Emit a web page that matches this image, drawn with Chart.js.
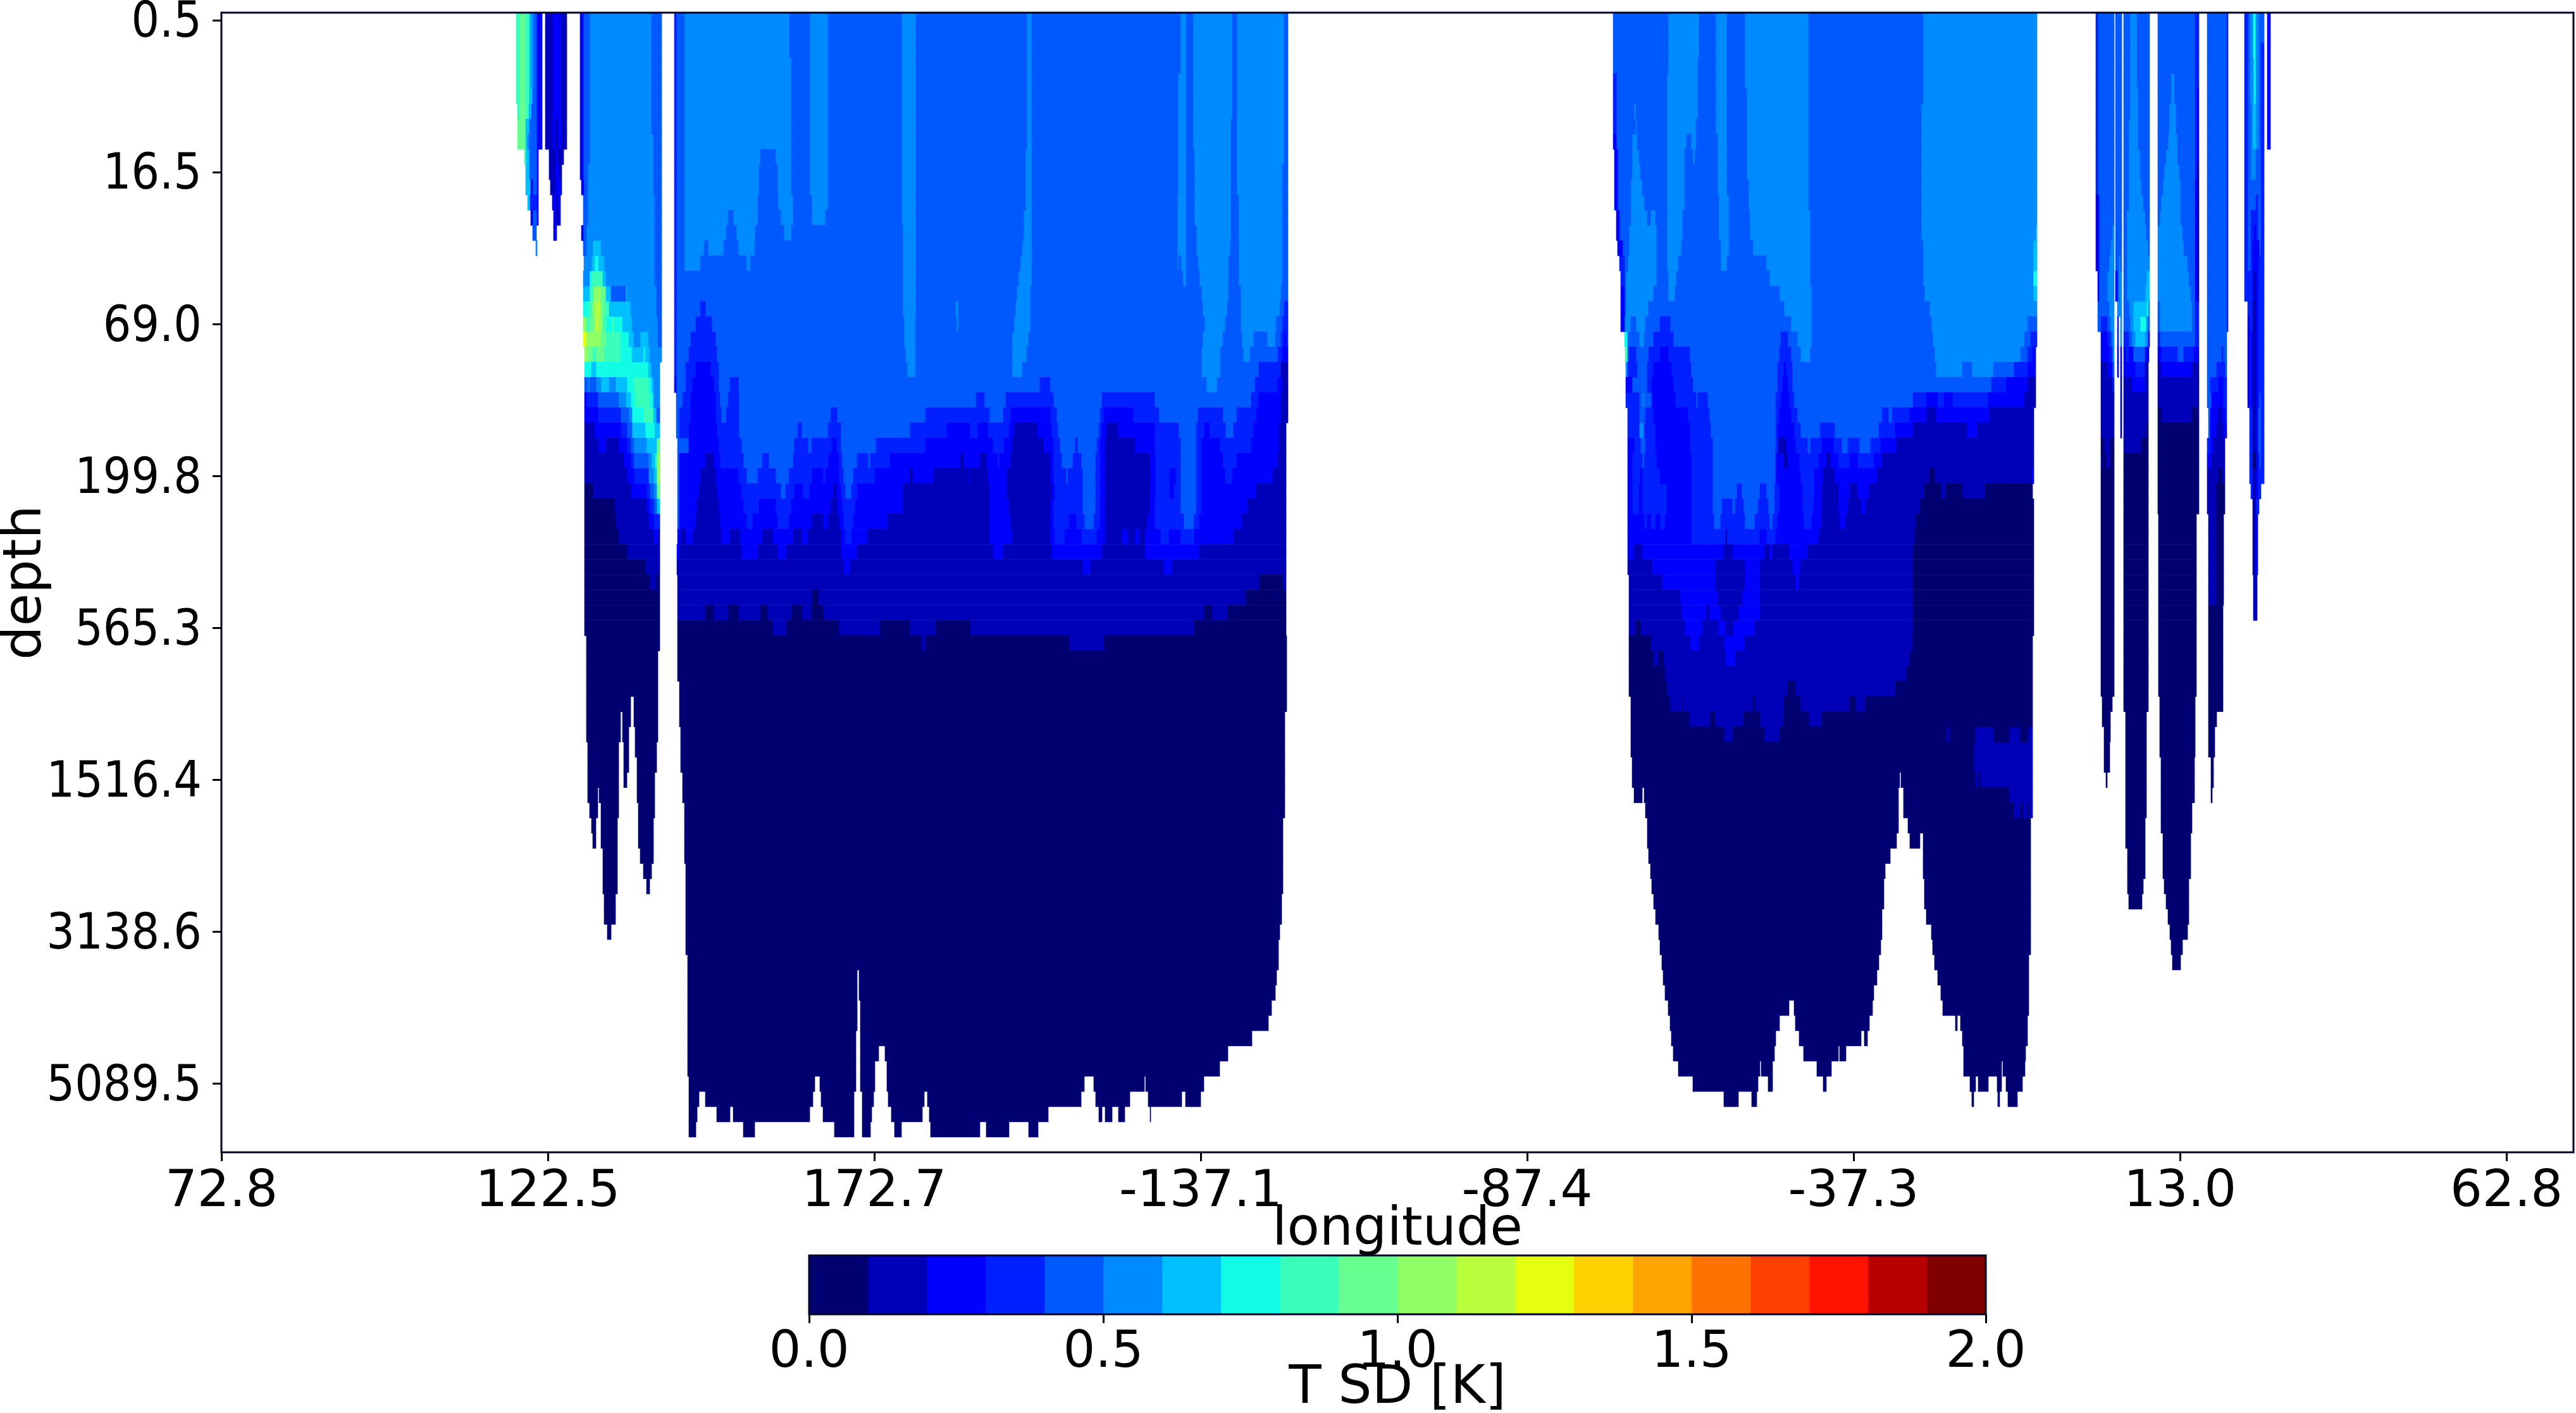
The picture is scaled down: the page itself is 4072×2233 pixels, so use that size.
<!DOCTYPE html>
<html>
<head>
<meta charset="utf-8">
<script src="https://cdn.jsdelivr.net/npm/chart.js"></script>
<style>
    html, body { margin: 0; background: #fff; }
    canvas { position: absolute; left: 0; }
</style>
</head>
<body>
<canvas id="section" width="4072" height="2233" style="top:0"></canvas>
<canvas id="colorbar" width="4072" height="333" style="top:1900px"></canvas>

<script>
// x unit is one grid step along the section (about 0.097 degrees)
const lonTickSteps = [0, 516, 1032, 1548, 2064, 2580, 3096, 3612];
const lonLabels = ['72.8', '122.5', '172.7', '-137.1', '-87.4', '-37.3', '13.0', '62.8'];
const lonMax = 3718;
const depthLevels = 75;
const depthTicks = ['0.5', '16.5', '69.0', '199.8', '565.3', '1516.4', '3138.6', '5089.5'];
const cbBounds = [0, 0.1, 0.2, 0.3, 0.4, 0.5, 0.6, 0.7, 0.8, 0.9, 1, 1.1, 1.2, 1.3, 1.4, 1.5, 1.6, 1.7, 1.8, 1.9, 2];
const levelColors = ['#000070', '#0000b8', '#0000ff', '#0020ff', '#0058ff', '#008aff', '#00c0ff', '#10fce6',
    '#3affba', '#66ff90', '#90ff66', '#baff3d', '#e6ff10', '#ffd000', '#ffa400', '#ff7200', '#ff4000', '#ff1300', '#b60000', '#800000'];

// each run: first row, last row, then x, level, x, level ... x. level -1 means land
const marginalSeas = [
    [0,4, 466,8,472,9,480,8,487,6,490,5,494,4,499,2,507],
    [0,6, 512,1,523,2,538,1,546],
    [5,5, 466,8,472,9,480,8,487,6,492,4,499,2,507],
    [6,6, 468,8,471,9,481,8,486,6,490,4,499,2,507],
    [7,7, 468,9,481,6,487,4,499,2,507],
    [8,8, 468,9,481,6,484,5,487,4,499,2,507],
    [7,8, 512,1,523,2,528,1,531,2,538,1,546],
    [9,9, 479,8,482,6,487,4,499,2,501],
    [9,9, 518,1,528,2,532,1,541],
    [10,10, 481,6,487,4,499,2,501],
    [10,10, 518,1,528,2,534,1,538],
    [11,11, 481,6,489,2,492,4,499,2,501],
    [11,11, 520,1,528,2,538],
    [12,12, 484,6,488,3,499,2,501],
    [12,12, 523,2,529,1,532,2,536],
    [13,13, 489,2,492,4,499,2,501],
    [13,13, 525,2,529,1,533,2,536],
    [14,14, 492,4,498],
    [14,14, 525,2,530],
    [15,15, 497,5,499]
];

const westPacific = [
    [0,7, 567,2,572,4,582,5,680,4,696],
    [8,9, 567,2,572,4,582,5,683,4,696],
    [10,10, 567,2,572,4,579,5,683,4,696],
    [11,11, 569,2,573,4,579,5,683,4,696],
    [12,13, 572,4,579,5,685,4,696],
    [14,14, 569,2,572,4,577,5,685,4,696],
    [15,15, 572,4,577,5,587,6,600,5,685,4,696],
    [16,16, 573,5,585,6,590,7,596,6,605,5,685,4,696],
    [17,17, 572,5,582,7,585,8,603,6,608,5,685,4,696],
    [18,18, 572,6,582,8,588,10,600,9,608,6,616,4,639,6,641,5,688,4,696],
    [19,19, 572,7,580,8,586,10,592,11,600,9,606,8,613,6,647,5,688,4,696],
    [20,20, 572,10,577,8,582,9,590,11,597,10,603,8,609,7,617,8,621,7,634,6,649,5,690,4,696],
    [21,21, 572,12,577,10,600,9,608,8,631,7,644,6,652,5,662,6,675,5,690,4,696],
    [22,22, 574,10,580,9,587,8,592,9,605,8,631,7,649,6,667,7,670,6,677,5,696],
    [23,23, 574,7,585,6,592,7,675,6,680,5,693],
    [24,24, 574,4,579,5,582,4,592,5,600,6,613,5,623,6,641,7,651,8,675,7,680,6,683,5,693],
    [25,25, 574,2,577,3,595,4,628,5,639,6,647,7,654,8,677,7,683,5,693],
    [26,26, 574,2,595,3,631,4,644,5,649,7,667,8,683,6,688,4,693],
    [27,27, 574,1,590,2,631,3,641,4,649,6,670,7,685,6,693],
    [28,28, 574,1,596,2,608,1,628,2,641,3,647,4,652,5,672,6,688,9,693],
    [29,29, 574,1,636,2,647,3,652,4,675,5,680,6,685,7,688,10,693],
    [30,30, 574,1,641,2,652,3,675,5,683,6,688,10,693],
    [31,31, 574,0,587,1,647,2,672,3,677,4,683,5,688,9,693],
    [32,32, 574,0,621,1,672,2,677,3,683,4,688,6,693],
    [33,33, 574,0,623,1,675,2,683,3,693],
    [34,34, 574,0,628,1,683,2,690,1,693],
    [35,35, 574,0,641,1,693],
    [36,36, 574,0,670,1,693],
    [37,37, 574,0,677,1,688,0,693],
    [38,40, 574,0,693],
    [41,41, 577,0,693],
    [42,44, 577,0,690],
    [45,45, 577,0,647,-1,652,0,690],
    [46,46, 577,0,631,-1,634,0,647,-1,652,0,690],
    [47,47, 577,0,631,-1,634,0,644,-1,654,0,690],
    [48,48, 579,0,628,-1,636,0,644,-1,654,0,688],
    [49,49, 579,0,628,-1,636,0,644,-1,657,0,688],
    [50,50, 579,0,628,-1,636,0,641,-1,657,0,685],
    [51,51, 579,0,595,-1,597,0,628,-1,657,0,685],
    [52,52, 582,0,595,-1,600,0,628,-1,659,0,685],
    [53,53, 585,0,592,-1,600,0,626,-1,659,0,683],
    [54,54, 587,0,592,-1,600,0,626,-1,659,0,683],
    [55,55, 603,0,626,-1,662,0,683],
    [56,56, 603,0,626,-1,667,0,680],
    [57,57, 603,0,626,-1,672,0,677],
    [58,59, 605,0,623],
    [60,60, 610,0,616]
];

const pacific = [
    [0,2, 716,3,719,4,732,5,898,4,930,5,959,4,1075,5,1098,4,1273,5,1281,4,1516,5,1525,4,1536,5,1598,4,1605,5,1680,4,1686],
    [3,3, 716,3,719,4,732,5,901,4,930,5,959,4,1075,5,1098,4,1273,5,1281,4,1516,5,1525,4,1536,5,1598,4,1605,5,1680,4,1686],
    [4,6, 716,3,719,4,732,5,901,4,930,5,959,4,1075,5,1098,4,1273,5,1281,4,1512,5,1525,4,1536,5,1598,4,1605,5,1680,4,1686],
    [7,8, 716,3,719,4,732,5,901,4,930,5,959,4,1075,5,1098,4,1273,5,1281,4,1512,5,1525,4,1536,5,1596,4,1605,5,1680,4,1686],
    [9,9, 716,3,719,4,732,5,852,4,876,5,901,4,930,5,959,4,1075,5,1098,4,1271,5,1281,4,1512,5,1525,4,1538,5,1596,4,1605,5,1680,4,1686],
    [10,11, 716,3,719,4,732,5,850,4,879,5,901,4,930,5,959,4,1075,5,1098,4,1271,5,1281,4,1512,5,1525,4,1538,5,1596,4,1605,5,1677,4,1686],
    [12,12, 716,3,719,4,732,5,848,4,880,5,904,4,933,5,959,4,1075,5,1098,4,1271,5,1281,4,1511,5,1525,4,1538,5,1596,4,1608,5,1677,4,1686],
    [13,13, 716,3,719,4,732,5,801,4,809,5,848,4,884,5,904,4,933,5,955,4,1075,5,1098,4,1268,5,1281,4,1511,5,1525,4,1538,5,1596,4,1608,5,1677,4,1686],
    [14,14, 716,3,719,4,732,5,798,4,814,5,844,4,889,5,901,4,1077,5,1098,4,1268,5,1281,4,1511,5,1525,4,1541,5,1596,4,1608,5,1677,4,1686],
    [15,15, 716,3,719,4,732,5,763,4,769,5,794,4,817,5,843,4,1077,5,1098,4,1266,5,1281,4,1511,5,1525,4,1541,5,1595,4,1608,5,1677,4,1686],
    [16,16, 716,3,719,4,732,5,757,4,830,5,836,4,1077,5,1098,4,1263,5,1281,4,1511,5,1513,4,1517,5,1525,4,1544,5,1592,4,1608,5,1677,4,1686],
    [17,17, 716,3,719,4,1077,5,1098,4,1260,5,1281,4,1520,5,1525,4,1546,5,1592,4,1608,5,1677,4,1686],
    [18,18, 716,3,719,4,1077,5,1098,4,1257,5,1279,4,1549,5,1592,4,1611,5,1675,4,1686],
    [19,19, 716,3,719,4,757,3,765,4,1077,5,1098,4,1160,5,1165,4,1255,5,1279,4,1551,5,1590,4,1611,5,1673,4,1680,3,1686],
    [20,20, 716,3,719,4,750,3,775,4,1079,5,1097,4,1162,5,1165,4,1253,5,1279,4,1554,5,1587,4,1611,5,1667,4,1677,3,1686],
    [21,21, 716,3,719,4,742,3,781,4,1079,5,1097,4,1250,5,1276,4,1551,5,1583,4,1613,5,1632,4,1653,5,1666,4,1675,3,1680,2,1683,3,1686],
    [22,22, 716,3,719,4,739,3,783,4,1081,5,1097,4,1250,5,1273,4,1549,5,1579,4,1615,5,1626,4,1670,3,1677,2,1686],
    [23,23, 716,3,719,4,734,3,750,2,773,3,786,4,1084,5,1097,4,1250,5,1266,4,1549,5,1579,4,1640,3,1675,1,1686],
    [24,24, 716,2,719,4,734,3,745,2,778,3,786,4,804,3,817,4,1294,3,1310,4,1557,5,1574,4,1634,3,1670,2,1677,1,1686],
    [25,25, 719,4,729,3,742,2,781,3,788,4,801,3,818,4,1193,3,1206,4,1240,3,1315,4,1392,3,1475,4,1628,3,1640,2,1675,1,1686],
    [26,26, 719,4,724,3,742,2,781,3,790,4,798,3,818,4,963,3,973,4,1113,3,1214,4,1236,3,1248,2,1310,3,1320,4,1389,3,1395,2,1441,3,1482,4,1544,3,1583,4,1605,3,1636,2,1675,1,1686],
    [27,27, 719,4,724,3,739,2,783,3,818,4,911,3,917,4,959,3,979,4,1089,3,1147,2,1183,3,1196,2,1211,3,1245,2,1253,1,1289,2,1312,3,1322,4,1387,3,1392,2,1400,1,1417,2,1475,3,1513,4,1541,3,1554,2,1562,3,1587,4,1600,3,1632,2,1672,1,1683],
    [28,28, 721,4,739,2,786,3,822,4,906,3,927,4,933,3,965,2,972,3,979,4,1035,3,1113,2,1219,3,1237,2,1250,1,1299,2,1315,3,1325,4,1350,3,1353,4,1384,3,1389,2,1397,1,1444,2,1475,3,1516,4,1541,3,1549,2,1578,3,1628,2,1672,1,1683],
    [29,29, 721,4,724,2,765,1,778,2,788,3,825,4,855,3,865,4,904,3,960,2,976,3,981,4,1005,3,1022,4,1026,3,1057,2,1168,1,1173,2,1199,1,1209,2,1227,3,1230,2,1248,1,1310,2,1315,3,1328,4,1346,3,1359,4,1382,3,1389,2,1397,1,1467,2,1476,3,1516,4,1541,3,1549,2,1583,3,1605,2,1670,1,1683],
    [30,30, 721,4,724,2,757,1,781,2,817,3,830,4,848,3,876,4,897,3,934,2,951,3,955,2,976,3,983,4,999,3,1033,2,1088,1,1093,2,1126,1,1181,2,1183,1,1211,2,1242,1,1310,2,1315,3,1335,4,1338,3,1361,4,1382,3,1389,2,1397,1,1468,2,1476,3,1499,2,1508,3,1516,4,1541,3,1549,2,1586,3,1598,2,1662,1,1683],
    [31,31, 721,4,724,2,755,1,783,2,822,3,884,4,892,3,906,2,919,3,930,2,968,1,972,2,979,3,986,4,996,3,1005,2,1077,1,1214,2,1242,1,1312,2,1317,3,1361,4,1382,3,1389,2,1397,1,1467,2,1476,3,1499,2,1505,3,1516,4,1541,3,1549,2,1636,1,1683],
    [32,32, 721,4,724,2,752,1,786,2,825,3,850,2,876,3,901,2,963,1,973,2,981,3,1002,2,1077,1,1214,2,1245,1,1310,2,1315,3,1361,4,1382,3,1389,2,1397,1,1467,2,1475,3,1516,4,1541,3,1549,2,1622,1,1683],
    [33,33, 721,4,724,2,750,1,788,2,830,3,840,2,879,3,897,2,933,1,951,2,959,1,976,2,983,3,999,2,1053,1,1214,2,1248,1,1310,2,1315,3,1340,2,1351,3,1364,4,1379,3,1389,2,1397,1,1463,2,1475,3,1521,4,1537,3,1546,2,1613,1,1683],
    [34,34, 721,2,726,1,734,2,745,1,790,2,804,1,819,2,855,1,871,2,904,1,917,2,927,1,979,2,986,3,996,2,1021,1,1214,2,1250,1,1310,2,1317,3,1333,2,1359,3,1384,2,1397,1,1423,2,1433,1,1444,2,1451,1,1459,2,1484,3,1498,2,1516,3,1538,2,1600,1,1683],
    [35,35, 720,2,724,1,822,2,848,1,879,2,893,1,979,2,1005,1,1219,2,1236,1,1312,2,1392,1,1459,2,1546,1,1683],
    [36,36, 720,1,984,2,994,1,1361,2,1374,1,1489,2,1503,1,1683],
    [37,37, 721,1,1641,0,1677,1,1683],
    [38,38, 721,1,934,0,943,1,1619,0,1683],
    [39,39, 721,1,765,0,778,1,801,0,817,1,852,0,863,1,901,0,917,1,933,0,951,1,1554,0,1565,1,1591,0,1683],
    [40,40, 721,0,871,1,893,0,976,1,1041,0,1088,1,1129,0,1183,1,1538,0,1683],
    [41,41, 721,0,1106,1,1113,0,1340,1,1395,0,1684],
    [42,43, 721,0,1684],
    [44,45, 724,0,1684],
    [46,46, 724,0,1681],
    [47,49, 726,0,1681],
    [50,51, 729,0,1681],
    [52,52, 732,0,1681],
    [53,55, 732,0,1678],
    [56,57, 734,0,1678],
    [58,59, 734,0,1676],
    [60,60, 734,0,1673],
    [61,61, 734,0,1671],
    [62,62, 737,0,1671],
    [63,63, 737,0,1005,-1,1008,0,1668],
    [64,64, 737,0,1005,-1,1008,0,1666],
    [65,65, 737,0,1005,-1,1010,0,1660],
    [66,66, 737,0,1005,-1,1010,0,1655],
    [67,67, 737,0,1003,-1,1010,0,1629],
    [68,68, 737,0,1003,-1,1010,0,1039,-1,1049,0,1591],
    [69,69, 737,0,1003,-1,1010,0,1033,-1,1052,0,1578],
    [70,70, 739,0,938,-1,946,0,1003,-1,1010,0,1033,-1,1052,0,1364,-1,1379,0,1459,-1,1461,0,1553],
    [71,71, 739,0,755,-1,765,0,935,-1,948,0,1000,-1,1013,0,1031,-1,1054,0,1111,-1,1116,0,1359,-1,1382,0,1436,-1,1465,0,1518,-1,1524,0,1548],
    [72,72, 739,0,752,-1,783,0,804,-1,809,0,930,-1,951,0,1000,-1,1013,0,1028,-1,1059,0,1108,-1,1119,0,1307,-1,1387,0,1392,-1,1397,0,1408,-1,1418,0,1428,-1,1468,0,1469],
    [73,73, 739,0,750,-1,825,0,843,-1,969,0,1000,-1,1013,0,1026,-1,1064,0,1075,-1,1121,0,1199,-1,1209,0,1245,-1,1276,0,1291]
];

const atlantic = [
    [0,2, 2200,4,2287,5,2336,4,2362,5,2380,4,2408,5,2509,4,2690,5,2870],
    [3,3, 2200,4,2287,5,2334,4,2362,5,2380,4,2408,5,2509,4,2690,5,2870],
    [4,4, 2200,3,2205,4,2285,5,2334,4,2362,5,2380,4,2408,5,2509,4,2690,5,2870],
    [5,5, 2200,3,2205,4,2285,5,2334,4,2362,5,2380,4,2411,5,2509,4,2690,5,2870],
    [6,6, 2200,3,2205,4,2233,5,2236,4,2285,5,2334,4,2362,5,2380,4,2411,5,2509,4,2687,5,2870],
    [7,7, 2200,3,2205,4,2236,5,2238,4,2285,5,2331,4,2362,5,2380,4,2411,5,2509,4,2687,5,2870],
    [8,8, 2200,2,2205,4,2230,5,2238,4,2285,5,2316,4,2323,5,2331,4,2365,5,2380,4,2411,5,2509,4,2687,5,2870],
    [9,9, 2202,2,2207,4,2230,5,2241,4,2285,5,2313,4,2326,5,2329,4,2365,5,2380,4,2411,5,2509,4,2687,5,2870],
    [10,10, 2202,2,2207,4,2230,5,2243,4,2285,5,2313,4,2365,5,2380,4,2411,5,2509,4,2687,5,2870],
    [11,11, 2202,2,2207,4,2228,5,2246,4,2285,5,2313,4,2365,5,2380,4,2414,5,2509,4,2687,5,2870],
    [12,12, 2202,2,2207,4,2228,5,2249,4,2285,5,2313,4,2367,5,2383,4,2414,5,2509,4,2687,5,2870],
    [13,13, 2205,2,2210,4,2228,5,2254,4,2259,5,2267,4,2285,5,2310,4,2367,5,2383,4,2416,5,2512,4,2687,5,2870],
    [14,14, 2205,2,2210,4,2225,5,2269,4,2285,5,2310,4,2367,5,2383,4,2416,5,2512,4,2687,5,2868,6,2870],
    [15,15, 2207,2,2215,4,2225,5,2269,4,2285,5,2308,4,2370,5,2383,4,2421,5,2512,4,2690,5,2864,6,2870],
    [16,16, 2210,3,2218,4,2223,5,2269,4,2285,5,2303,4,2370,5,2380,4,2442,5,2512,4,2690,5,2864,6,2870],
    [17,17, 2212,3,2218,4,2220,5,2269,4,2287,5,2300,4,2447,5,2512,4,2690,5,2864,7,2870],
    [18,18, 2212,2,2218,4,2220,5,2264,4,2287,5,2298,4,2463,5,2514,4,2692,5,2864,6,2870],
    [19,19, 2212,2,2218,4,2220,5,2256,4,2470,5,2514,4,2700,5,2870],
    [20,20, 2212,2,2218,5,2228,4,2236,5,2251,4,2274,3,2290,4,2481,5,2514,4,2703,5,2855,4,2870],
    [21,21, 2218,7,2223,4,2241,5,2249,4,2264,3,2295,4,2465,3,2476,4,2491,5,2514,4,2705,5,2850,4,2860,3,2870],
    [22,22, 2219,8,2223,4,2225,3,2236,4,2256,3,2274,2,2287,3,2321,4,2463,3,2481,4,2496,5,2512,4,2708,5,2844,4,2855,3,2863,2,2868],
    [23,23, 2220,5,2223,3,2238,4,2254,3,2264,2,2292,3,2323,4,2460,3,2470,2,2473,3,2483,4,2710,5,2752,4,2767,5,2801,4,2834,3,2855,2,2868],
    [24,24, 2220,2,2230,4,2254,3,2261,2,2295,3,2326,4,2460,3,2468,2,2476,3,2483,4,2798,3,2821,2,2856,1,2868],
    [25,25, 2220,3,2241,4,2246,5,2249,4,2261,2,2298,3,2331,4,2334,3,2349,4,2457,3,2465,2,2478,3,2486,4,2674,3,2695,2,2713,3,2723,2,2736,3,2793,2,2850,1,2868],
    [26,26, 2223,3,2241,4,2251,3,2264,2,2318,3,2352,4,2457,3,2463,2,2481,3,2491,4,2625,3,2635,4,2641,3,2669,2,2695,1,2710,2,2795,1,2865],
    [27,27, 2223,3,2241,5,2249,3,2267,2,2321,3,2354,4,2457,3,2460,2,2486,3,2496,4,2527,3,2550,4,2620,3,2646,2,2674,1,2759,2,2775,1,2865],
    [28,28, 2223,2,2233,3,2243,4,2251,3,2267,2,2321,3,2357,4,2457,3,2461,1,2473,2,2488,3,2507,4,2512,3,2530,2,2548,3,2561,4,2571,3,2589,4,2607,3,2623,2,2648,1,2865],
    [29,29, 2223,2,2230,3,2246,4,2249,3,2269,2,2323,3,2357,4,2457,2,2470,1,2476,2,2494,3,2525,2,2537,1,2543,2,2556,3,2574,2,2586,3,2612,2,2625,1,2865],
    [30,30, 2223,2,2230,3,2243,2,2246,3,2274,2,2323,3,2357,4,2457,2,2496,3,2518,2,2532,1,2550,2,2617,1,2700,0,2708,1,2861,2,2865],
    [31,31, 2223,2,2230,3,2241,2,2246,3,2285,2,2323,3,2357,4,2396,3,2403,4,2432,3,2442,4,2455,3,2463,2,2499,3,2518,2,2530,1,2556,2,2574,1,2586,2,2605,1,2692,0,2718,1,2726,0,2752,1,2788,0,2863],
    [32,32, 2223,2,2230,3,2241,2,2246,3,2285,2,2323,3,2357,4,2372,3,2388,4,2393,3,2406,4,2429,3,2445,4,2455,3,2463,2,2499,3,2517,2,2530,1,2556,2,2571,1,2592,2,2599,1,2685,0,2865],
    [33,33, 2223,2,2249,3,2254,2,2259,3,2267,2,2274,3,2282,2,2323,3,2359,4,2370,3,2408,4,2424,3,2447,4,2452,3,2460,2,2501,3,2514,2,2530,1,2558,2,2568,1,2679,0,2865],
    [34,34, 2223,2,2323,3,2378,1,2380,3,2432,2,2442,3,2457,2,2525,1,2677,0,2865],
    [35,35, 2223,2,2233,1,2246,2,2375,1,2388,2,2439,1,2447,2,2452,1,2478,2,2507,1,2674,0,2865],
    [36,36, 2223,1,2261,2,2362,1,2408,2,2432,1,2483,2,2496,1,2674,0,2865],
    [37,37, 2225,1,2277,2,2362,1,2408,2,2432,1,2488,2,2494,1,2674,0,2865],
    [38,38, 2225,1,2305,2,2366,1,2403,2,2432,1,2674,0,2865],
    [39,39, 2225,1,2308,2,2347,1,2352,2,2370,1,2398,2,2432,1,2674,0,2865],
    [40,40, 2225,1,2236,0,2243,1,2313,2,2341,1,2366,2,2378,1,2390,2,2424,1,2674,0,2865],
    [41,41, 2225,0,2259,1,2321,2,2336,1,2375,2,2408,1,2673,0,2863],
    [42,42, 2225,0,2264,1,2272,0,2279,1,2378,2,2393,1,2669,0,2863],
    [43,43, 2225,0,2282,1,2664,0,2863],
    [44,44, 2225,0,2285,1,2476,0,2488,1,2646,0,2863],
    [45,45, 2228,0,2290,1,2309,0,2310,1,2421,0,2424,1,2470,0,2496,1,2574,0,2583,1,2599,0,2863],
    [46,46, 2228,0,2320,1,2353,0,2361,1,2406,0,2432,1,2469,0,2509,1,2530,0,2863],
    [47,47, 2228,0,2375,1,2389,0,2439,1,2463,0,2727,1,2732,0,2772,1,2802,0,2826,1,2843,0,2855,1,2863],
    [48,48, 2228,0,2770,1,2863],
    [49,49, 2230,0,2770,1,2863],
    [50,50, 2230,0,2653,-1,2655,0,2772,1,2777,0,2780,1,2863],
    [51,51, 2233,0,2246,-1,2249,0,2651,-1,2659,0,2826,1,2863],
    [52,52, 2251,0,2651,-1,2659,0,2833,1,2844,0,2847,1,2855,0,2857,1,2863],
    [53,53, 2254,0,2651,-1,2666,0,2860],
    [54,54, 2254,0,2648,-1,2669,0,2685,-1,2690,0,2860],
    [55,55, 2256,0,2638,-1,2690,0,2860],
    [56,56, 2259,0,2630,-1,2690,0,2860],
    [57,57, 2261,0,2628,-1,2692,0,2860],
    [58,58, 2264,0,2628,-1,2692,0,2860],
    [59,59, 2267,0,2625,-1,2695,0,2860],
    [60,60, 2272,0,2625,-1,2703,0,2860],
    [61,61, 2274,0,2623,-1,2705,0,2860],
    [62,62, 2277,0,2620,-1,2708,0,2857],
    [63,63, 2279,0,2617,-1,2713,0,2857],
    [64,64, 2282,0,2612,-1,2718,0,2857],
    [65,65, 2287,0,2478,-1,2486,0,2610,-1,2721,0,2857],
    [66,66, 2290,0,2463,-1,2488,0,2605,-1,2741,0,2744,-1,2749,0,2855],
    [67,67, 2292,0,2457,-1,2494,0,2592,-1,2597,0,2602,-1,2752,0,2855],
    [68,68, 2295,0,2455,-1,2501,0,2556,-1,2558,0,2568,-1,2754,0,2852],
    [69,69, 2303,0,2432,-1,2434,0,2452,-1,2522,0,2545,-1,2754,0,2814,-1,2816,0,2851],
    [70,70, 2326,0,2429,-1,2445,0,2452,-1,2532,0,2537,-1,2764,0,2773,-1,2777,0,2793,-1,2807,0,2814,-1,2821,0,2847],
    [71,71, 2375,0,2398,-1,2419,0,2427,-1,2767,0,2770,-1,2808,0,2811,-1,2824,0,2839]
];

const capeBasins = [
    [0,11, 2963,3,2966,4,2992],
    [12,13, 2963,2,2968,4,2992],
    [14,14, 2963,2,2968,4,2989,5,2992],
    [15,15, 2963,2,2968,4,2986,5,2992],
    [16,16, 2963,2,2968,4,2984,5,2992],
    [17,18, 2966,2,2968,4,2981,5,2992],
    [19,19, 2966,4,2984,5,2992],
    [20,20, 2966,4,2971,3,2981,4,2986,5,2992],
    [21,21, 2971,2,2981,3,2986,4,2989,5,2992],
    [22,22, 2971,2,2984,3,2989,5,2992],
    [23,23, 2971,1,2981,2,2989,4,2992],
    [24,24, 2971,1,2989,3,2992],
    [25,27, 2971,1,2992],
    [28,28, 2971,0,2976,1,2986,0,2992],
    [29,29, 2971,1,2973,0,2979,1,2986,0,2992],
    [30,44, 2971,0,2992],
    [45,45, 2973,0,2989],
    [46,46, 2973,0,2986],
    [47,47, 2976,0,2986],
    [48,49, 2976,0,2985],
    [50,50, 2979,0,2981],

    [0,15, 2994,4,3004],
    [16,16, 2994,4,2999,5,3002,4,3004],
    [17,18, 2994,2,2997,4,2999,5,3004],
    [19,19, 2997,5,3004],
    [20,21, 2997,3,2999,-1,3002,5,3004],
    [22,23, 2997,2,2999,-1,3002,2,3004],
    [24,27, 3002,1,3004],

    [0,4, 3007,4,3017,5,3028,4,3048],
    [5,6, 3007,4,3017,5,3030,4,3048],
    [7,8, 3007,4,3015,5,3030,4,3048],
    [9,10, 3007,4,3015,5,3033,4,3048],
    [11,11, 3007,4,3015,5,3035,4,3048],
    [12,12, 3007,4,3015,5,3038,4,3048],
    [13,13, 3007,4,3012,5,3041,4,3048],
    [14,14, 3007,4,3012,5,3043,4,3048],
    [15,15, 3007,4,3012,5,3046,4,3048],
    [16,16, 3007,4,3012,5,3048],
    [17,17, 3007,4,3012,5,3043,6,3048],
    [18,18, 3007,4,3012,5,3041,6,3048],
    [19,19, 3007,4,3015,5,3022,6,3043,7,3046,5,3048],
    [20,20, 3007,4,3017,5,3022,6,3033,7,3043,5,3046,4,3048],
    [21,21, 3007,3,3015,4,3020,5,3025,6,3041,5,3046,2,3048],
    [22,22, 3007,2,3010,3,3015,2,3022,4,3041,2,3046,1,3047],
    [23,23, 3007,2,3025,3,3041,1,3046],
    [24,24, 3007,1,3020,2,3041,1,3046],
    [25,26, 3007,1,3046],
    [27,27, 3007,1,3043,0,3046],
    [28,28, 3007,1,3035,0,3046],
    [29,45, 3007,0,3046],
    [46,52, 3010,0,3043],
    [53,54, 3010,0,3041],
    [55,56, 3013,0,3041],
    [57,57, 3013,0,3038],
    [58,58, 3015,0,3036],

    [0,3, 3061,4,3120,3,3126],
    [4,4, 3061,4,3082,5,3087,4,3120,3,3126],
    [5,5, 3061,4,3082,5,3087,4,3120,3,3123,2,3126],
    [6,7, 3061,4,3079,5,3090,4,3120,3,3123,2,3126],
    [8,8, 3061,4,3077,5,3092,4,3120,3,3123,2,3126],
    [9,9, 3061,4,3074,5,3092,4,3120,3,3123,2,3126],
    [10,10, 3061,4,3071,5,3095,4,3120,3,3123,1,3126],
    [11,11, 3061,4,3069,5,3097,4,3120,2,3123,1,3126],
    [12,12, 3061,4,3066,5,3097,4,3120,2,3123,1,3126],
    [13,13, 3061,4,3064,5,3097,4,3120,2,3123,1,3126],
    [14,14, 3061,5,3100,4,3120,2,3123,1,3126],
    [15,15, 3061,5,3102,4,3120,2,3123,1,3126],
    [16,16, 3061,5,3108,4,3120,2,3123,1,3126],
    [17,17, 3061,5,3110,4,3120,2,3123,1,3126],
    [18,18, 3061,5,3113,4,3120,2,3123,1,3126],
    [19,20, 3061,4,3064,5,3115,4,3120,3,3126],
    [21,21, 3061,3,3064,4,3120,3,3126],
    [22,22, 3061,2,3066,3,3092,4,3102,3,3118,2,3126],
    [23,23, 3061,1,3066,2,3115,1,3126],
    [24,25, 3061,1,3126],
    [26,26, 3061,0,3066,1,3115,0,3123,1,3126],
    [27,32, 3061,0,3126],
    [33,44, 3062,0,3122],
    [45,48, 3064,0,3120],
    [49,51, 3066,0,3119],
    [52,53, 3066,0,3115],
    [54,56, 3069,0,3113],
    [57,57, 3071,0,3110],
    [58,58, 3074,0,3110],
    [59,59, 3077,0,3110],
    [60,60, 3080,0,3108],
    [61,61, 3082,0,3100],
    [62,62, 3084,0,3097]
];

const indianSide = [
    [0,20, 3139,4,3170,3,3172],
    [21,21, 3139,4,3170],
    [22,22, 3139,4,3162,3,3164,4,3170],
    [23,23, 3139,4,3154,3,3167,4,3170],
    [24,24, 3139,4,3144,3,3157,2,3164,3,3170],
    [25,25, 3139,4,3146,2,3164,3,3170],
    [26,26, 3141,4,3144,2,3157,1,3162,2,3167,3,3170],
    [27,27, 3141,4,3144,2,3154,1,3164,2,3170],
    [28,28, 3139,3,3144,2,3149,1,3167],
    [29,29, 3139,2,3146,1,3167],
    [30,30, 3139,1,3157,0,3162,1,3167],
    [31,32, 3139,1,3154,0,3167],
    [33,38, 3141,1,3154,0,3165],
    [39,45, 3141,0,3164],
    [46,46, 3141,0,3154],
    [47,48, 3141,0,3151],
    [49,50, 3145,0,3149],
    [51,51, 3145,0,3147],

    [0,1, 3198,3,3203,4,3206,5,3211,7,3216,5,3221,4,3229],
    [2,2, 3198,3,3203,4,3206,5,3211,7,3216,5,3221,4,3224,3,3229],
    [3,5, 3198,3,3203,4,3206,5,3211,6,3213,7,3216,5,3221,4,3224,3,3229],
    [6,8, 3198,3,3203,4,3208,5,3211,6,3216,5,3221,4,3224,3,3229],
    [9,10, 3198,3,3203,4,3208,5,3216,4,3224,3,3229],
    [11,11, 3198,3,3203,4,3224,3,3229],
    [12,12, 3198,3,3203,4,3216,3,3219,4,3224,3,3229],
    [13,13, 3198,3,3203,4,3208,3,3219,4,3224,3,3229],
    [14,14, 3198,3,3203,4,3208,3,3213,2,3216,3,3219,4,3224,3,3229],
    [15,15, 3198,3,3203,4,3208,3,3211,2,3221,4,3224,3,3229],
    [16,16, 3198,3,3203,4,3208,3,3211,2,3219,3,3229],
    [17,18, 3198,3,3211,2,3213,1,3216,2,3219,3,3229],
    [19,19, 3203,3,3211,1,3216,2,3219,3,3229],
    [20,20, 3203,2,3206,3,3211,1,3216,2,3219,3,3229],
    [21,24, 3203,2,3206,3,3208,2,3211,1,3216,2,3219,3,3229],
    [25,25, 3203,2,3206,3,3208,2,3211,1,3216,2,3219,3,3221,4,3224,3,3229],
    [26,28, 3206,3,3211,1,3216,2,3219,4,3224,3,3229],
    [29,29, 3206,3,3211,0,3216,2,3219,3,3221,4,3224,3,3229],
    [30,30, 3206,3,3211,1,3216,2,3219,3,3229],
    [31,31, 3208,3,3211,1,3216,2,3219,3,3224],
    [32,32, 3211,1,3216,3,3221],
    [33,36, 3211,1,3216,2,3219],
    [37,39, 3212,1,3218],

    [0,8, 3234,2,3239]
];

const basins = [marginalSeas, westPacific, pacific, atlantic, capeBasins, indianSide];

// turn the runs into one floating bar list per colour level
const rowLabels = [];
for (let r = 0; r < depthLevels; r++) rowLabels.push(String(r));
const cells = levelColors.map(() => []);
basins.forEach(runs => runs.forEach(run => {
    for (let r = run[0]; r <= run[1]; r++) {
        for (let i = 2; i + 2 < run.length; i += 2) {
            if (run[i + 1] >= 0) cells[run[i + 1]].push({x: [run[i], run[i + 2]], y: rowLabels[r]});
        }
    }
}));

const regular = "'DejaVu Sans', sans-serif";
const tickFont = {family: regular, size: 80};
const depthFont = {family: "'DejaVu Sans Condensed', 'DejaVu Sans', sans-serif", size: 78};
const titleFont = {family: regular, size: 84, lineHeight: 1};

const framePlugin = {
    id: 'frame',
    afterDatasetsDraw(chart) {
        const a = chart.chartArea, ctx = chart.ctx;
        ctx.save();
        ctx.strokeStyle = '#00002a';
        ctx.lineWidth = 3;
        ctx.strokeRect(a.left, a.top, a.right - a.left, a.bottom - a.top);
        ctx.restore();
    }
};

const tickGrid = {display: true, drawOnChartArea: false, drawTicks: true, tickLength: 14, tickWidth: 3, tickColor: '#000', offset: false};

new Chart(document.getElementById('section'), {
    type: 'bar',
    plugins: [framePlugin],
    data: {
        labels: rowLabels,
        datasets: cells.map((c, i) => ({data: c, backgroundColor: levelColors[i], grouped: false, barPercentage: 1, categoryPercentage: 1, borderWidth: 0}))
    },
    options: {
        indexAxis: 'y',
        responsive: false,
        animation: false,
        layout: {padding: {left: 0, right: 4, top: 20, bottom: 246}},
        plugins: {legend: {display: false}, tooltip: {enabled: false}},
        scales: {
            x: {
                type: 'linear', min: 0, max: lonMax,
                grid: tickGrid, border: {display: false},
                afterBuildTicks: s => { s.ticks = lonTickSteps.map(v => ({value: v})); },
                afterFit: s => { s.height = 166; s.paddingLeft = 0; s.paddingRight = 0; },
                ticks: {color: '#000', font: tickFont, padding: 2, maxRotation: 0, autoSkip: false, callback: (v, i) => lonLabels[i]},
                title: {display: true, text: 'longitude', color: '#000', font: titleFont, padding: 0}
            },
            y: {
                grid: tickGrid, border: {display: false},
                afterBuildTicks: s => { s.ticks = s.ticks.filter(t => t.value % 10 === 0); },
                afterFit: s => { s.width = 350; s.paddingTop = 0; s.paddingBottom = 0; },
                ticks: {color: '#000', font: depthFont, padding: 17, labelOffset: 6, autoSkip: false, callback: v => depthTicks[v / 10]},
                title: {display: true, text: 'depth', color: '#000', font: titleFont, padding: 0}
            }
        }
    }
});

new Chart(document.getElementById('colorbar'), {
    type: 'bar',
    plugins: [framePlugin],
    data: {
        labels: ['T SD'],
        datasets: levelColors.map((c, i) => ({data: [[cbBounds[i], cbBounds[i + 1]]], backgroundColor: c, grouped: false, barPercentage: 1, categoryPercentage: 1, borderWidth: 0}))
    },
    options: {
        indexAxis: 'y',
        responsive: false,
        animation: false,
        layout: {padding: {left: 1279, right: 933, top: 84, bottom: 0}},
        plugins: {legend: {display: false}, tooltip: {enabled: false}},
        scales: {
            x: {
                type: 'linear', min: 0, max: 2,
                grid: tickGrid, border: {display: false},
                afterFit: s => { s.height = 156; },
                ticks: {color: '#000', font: tickFont, padding: 0, stepSize: 0.5, maxRotation: 0, callback: v => v.toFixed(1)},
                title: {display: true, text: 'T SD [K]', color: '#000', font: {family: regular, size: 84, lineHeight: 0.9}, padding: 0}
            },
            y: {display: false}
        }
    }
});
</script>
</body>
</html>
